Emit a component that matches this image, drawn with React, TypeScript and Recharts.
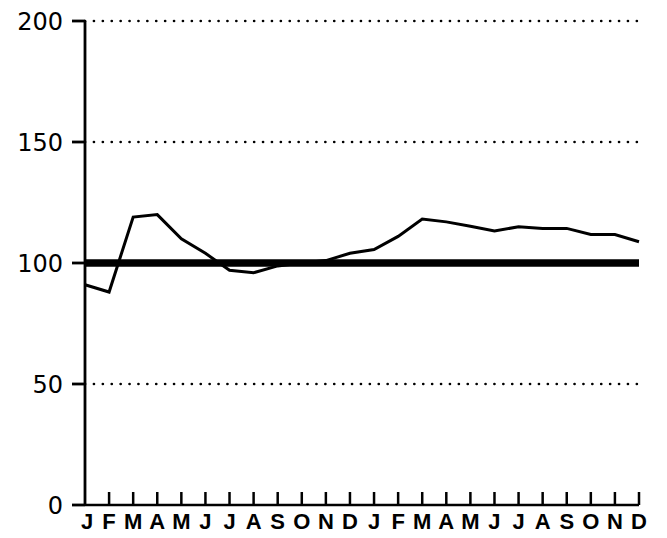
import React from "react";
import { LineChart, Line, XAxis, YAxis, ReferenceLine } from "recharts";

// two years of monthly values, index = 100 baseline
const months = [
  "J", "F", "M", "A", "M", "J", "J", "A", "S", "O", "N", "D",
  "J", "F", "M", "A", "M", "J", "J", "A", "S", "O", "N", "D",
];
const values = [
  91, 88, 119, 120, 110, 104, 97, 96, 98.8, 100, 101, 104,
  105.6, 111, 118.2, 117, 115.2, 113.2, 115, 114.3, 114.3, 111.8, 111.8, 108.8,
];
const yTicks = [0, 50, 100, 150, 200];
const gridValues = [50, 150, 200];
const baseline = 100;

const data = months.map((m, i) => ({ i, m, v: values[i] }));

function MonthTick(props: any) {
  const { x, y, payload } = props;
  const label = months[payload.value] ?? "";
  return (
    <g>
      {payload.value > 0 ? (
        <line x1={x} x2={x} y1={y} y2={y - 13} stroke="#000" strokeWidth={2.5} />
      ) : null}
      <text
        x={x + (payload.value === 0 ? 2 : 0)}
        y={y + 24}
        textAnchor="middle"
        style={{
          fontFamily: "'Liberation Sans', Arial, sans-serif",
          fontWeight: 700,
          fontSize: "22px",
        }}
        fill="#000"
      >
        {label}
      </text>
    </g>
  );
}

export default function App() {
  return (
    <div style={{ position: "absolute", left: 0, top: 0, background: "#fff" }}>
      <LineChart
        width={667}
        height={538}
        data={data}
        margin={{ top: 21, right: 28, bottom: 0, left: 0 }}
      >
        <XAxis
          dataKey="i"
          type="number"
          domain={[0, 23]}
          ticks={data.map((d) => d.i)}
          interval={0}
          height={33}
          tickSize={0}
          tickMargin={0}
          tickLine={false}
          axisLine={{ stroke: "#000", strokeWidth: 2.5 }}
          tick={<MonthTick />}
        />
        <YAxis
          type="number"
          domain={[0, 200]}
          ticks={yTicks}
          width={85}
          tickSize={13}
          tickMargin={9}
          axisLine={{ stroke: "#000", strokeWidth: 2.8 }}
          tickLine={{ stroke: "#000", strokeWidth: 2.8 }}
          tick={{
            fill: "#000",
            fontSize: 24,
            fontFamily: "DejaVu Sans, sans-serif",
          }}
        />
        {gridValues.map((g) => (
          <ReferenceLine
            key={g}
            y={g}
            stroke="#000"
            strokeWidth={2.6}
            strokeLinecap="round"
            strokeDasharray="0.1 8.8"
          />
        ))}
        <ReferenceLine y={baseline} stroke="#000" strokeWidth={7.5} />
        <Line
          type="linear"
          dataKey="v"
          stroke="#000"
          strokeWidth={3}
          dot={false}
          isAnimationActive={false}
        />
      </LineChart>
    </div>
  );
}
